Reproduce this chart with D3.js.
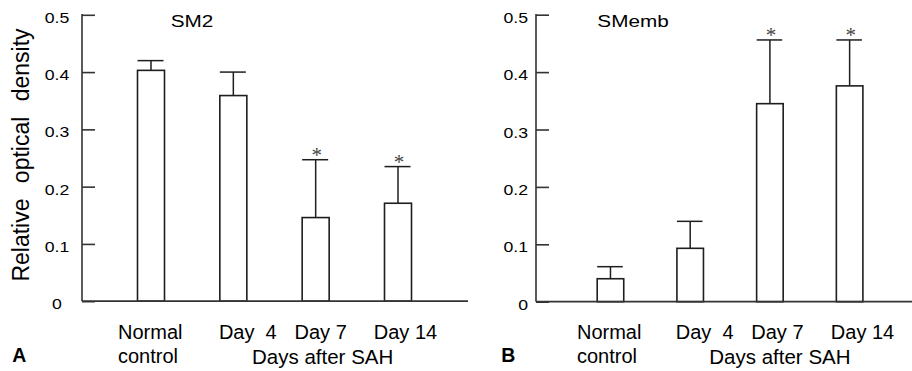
<!DOCTYPE html>
<html><head><meta charset="utf-8">
<script src="https://cdn.jsdelivr.net/npm/d3@7/dist/d3.min.js"></script>
<style>
html,body{margin:0;padding:0;background:#fff;}
svg{display:block;}
text{font-family:"Liberation Sans",Arial,Helvetica,sans-serif;fill:#000;}
</style></head>
<body>
<script>
// ---- data ----
const categories = ["Normal control", "Day 4", "Day 7", "Day 14"];
const categoryLines = [["Normal", "control"], ["Day  4"], ["Day 7"], ["Day 14"]];
const sm2Mean = [0.403, 0.359, 0.146, 0.171];
const sm2SD = [0.017, 0.041, 0.101, 0.064];
const sm2Sig = [false, false, true, true];
const smembMean = [0.040, 0.093, 0.345, 0.376];
const smembSD = [0.021, 0.047, 0.111, 0.080];
const smembSig = [false, false, true, true];
const yTicks = [0, 0.1, 0.2, 0.3, 0.4, 0.5];
const yTickLabels = ["0", "0.1", "0.2", "0.3", "0.4", "0.5"];
const panelTitles = ["SM2", "SMemb"];
const panelLetters = ["A", "B"];
const xTitle = "Days after SAH";
const yTitle = "Relative optical density";

const W = 912, H = 371;
const svg = d3.select("body").append("svg").attr("width", W).attr("height", H);

const panels = [
  {mean: sm2Mean, sd: sm2SD, sig: sm2Sig, title: panelTitles[0], letter: panelLetters[0],
   axisX: 82, baseEnd: 468, y0: 301.2, y1: 14.8, bandRange: [137.5, 411.5], pad: 0.672,
   tickAnchor: "middle", tickX: 57, titleX: 170.7, letterX: 12.3,
   labelShift: [-33, 14.5, 5, 7.5], daysShift: 7, showY: true},
  {mean: smembMean, sd: smembSD, sig: smembSig, title: panelTitles[1], letter: panelLetters[1],
   axisX: 536, baseEnd: 912, y0: 301.7, y1: 14.7, bandRange: [597.2, 862.9], pad: 0.667,
   tickAnchor: "end", tickX: 528, titleX: 597.3, letterX: 501.3,
   labelShift: [-33.5, 14.5, 7.5, 12.9], daysShift: 10, showY: false}
];

const lineCol = "#1e1e1e";
const axisCol = "#333";

panels.forEach(p => {
  const g = svg.append("g");
  const y = d3.scaleLinear().domain([0, 0.5]).range([p.y0, p.y1]);
  const x = d3.scaleBand().domain(categories).range(p.bandRange).paddingInner(p.pad).paddingOuter(0);
  const bw = x.bandwidth();

  // y axis with inward ticks
  const yAxis = d3.axisRight(y).tickValues(yTicks).tickSize(13).tickFormat("");
  const ag = g.append("g").attr("transform", `translate(${p.axisX},0)`).call(yAxis);
  ag.select(".domain").remove();
  ag.selectAll(".tick line").attr("stroke", axisCol).attr("stroke-width", 1.6);
  g.append("line").attr("x1", p.axisX).attr("x2", p.axisX).attr("y1", y(0.5) - 0.8).attr("y2", y(0))
    .attr("stroke", axisCol).attr("stroke-width", 1.6);

  // tick labels
  g.selectAll(".tl").data(yTicks).enter().append("text")
    .attr("transform", (d) => `translate(${p.tickX},${y(d) + 8}) scale(1.22,1)`)
    .attr("text-anchor", p.tickAnchor)
    .style("font-size", "14.5px")
    .text((d, i) => yTickLabels[i]);

  const data = categories.map((c, i) => ({c, m: p.mean[i], sd: p.sd[i], sig: p.sig[i], i}));

  // error bars
  g.selectAll(".eb").data(data).enter().append("line")
    .attr("x1", d => x(d.c) + bw / 2).attr("x2", d => x(d.c) + bw / 2)
    .attr("y1", d => y(d.m)).attr("y2", d => y(d.m + d.sd))
    .attr("stroke", lineCol).attr("stroke-width", 1.5);
  g.selectAll(".cap").data(data).enter().append("line")
    .attr("x1", d => x(d.c)).attr("x2", d => x(d.c) + bw - 1)
    .attr("y1", d => y(d.m + d.sd)).attr("y2", d => y(d.m + d.sd))
    .attr("stroke", lineCol).attr("stroke-width", 1.5);

  // bars
  g.selectAll(".bar").data(data).enter().append("rect")
    .attr("x", d => x(d.c)).attr("width", bw)
    .attr("y", d => y(d.m)).attr("height", d => y(0) - y(d.m))
    .attr("fill", "#fff").attr("stroke", lineCol).attr("stroke-width", 1.6);

  // baseline
  g.append("line").attr("x1", p.axisX).attr("x2", p.baseEnd).attr("y1", y(0)).attr("y2", y(0))
    .attr("stroke", axisCol).attr("stroke-width", 1.8);

  // significance asterisks
  g.selectAll(".ast").data(data.filter(d => d.sig)).enter().append("text")
    .attr("x", d => x(d.c) + bw / 2 + 1).attr("y", d => y(d.m + d.sd) + 2)
    .attr("text-anchor", "middle")
    .style("font-family", "'Liberation Serif','Times New Roman',serif")
    .style("font-size", "21px").style("fill", "#444")
    .text("*");

  // category labels
  data.forEach(d => {
    const lines = categoryLines[d.i];
    const cx = x(d.c) + bw / 2 + p.labelShift[d.i];
    lines.forEach((ln, k) => {
      g.append("text")
        .attr("x", cx).attr("y", 339 + k * 23.5)
        .attr("text-anchor", d.i === 0 ? "start" : "middle")
        .style("font-size", "20px")
        .style("white-space", "pre")
        .text(ln);
    });
  });

  // x title
  g.append("text")
    .attr("x", x("Day 7") + bw / 2 + p.daysShift).attr("y", 364)
    .attr("text-anchor", "middle").style("font-size", "20.5px")
    .text(xTitle);

  // panel title
  g.append("text")
    .attr("transform", `translate(${p.titleX},27.4) scale(1.22,1)`)
    .style("font-size", "17px").text(p.title);

  // panel letter
  g.append("text").attr("x", p.letterX).attr("y", 361.7)
    .style("font-size", "19.5px").style("font-weight", "bold").text(p.letter);

  if (p.showY) {
    g.append("text")
      .attr("transform", `translate(28.5,${(28 + 282) / 2}) rotate(-90)`)
      .attr("text-anchor", "middle").style("font-size", "23px")
      .style("word-spacing", "9px")
      .text(yTitle);
  }
});
</script>
</body></html>
